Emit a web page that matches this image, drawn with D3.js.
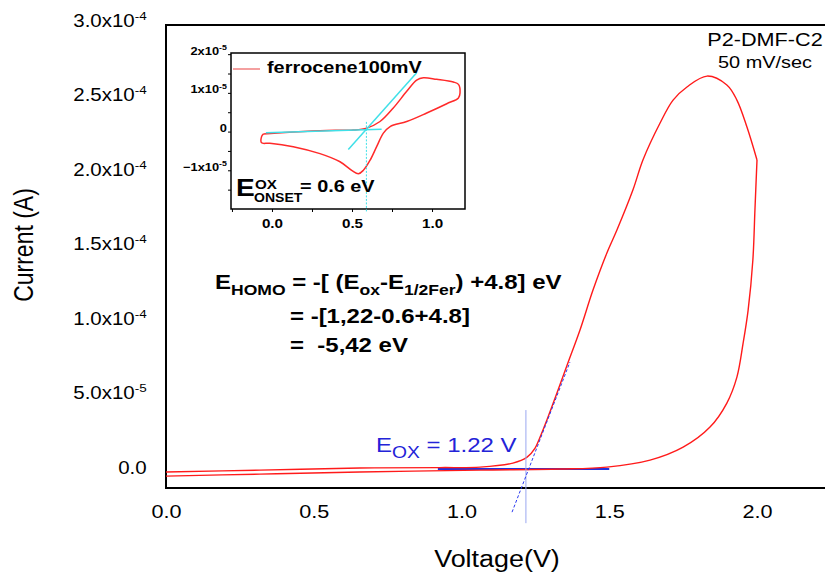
<!DOCTYPE html>
<html>
<head>
<meta charset="utf-8">
<script src="https://cdn.jsdelivr.net/npm/d3@7"></script>
<style>
body{margin:0;background:#fff;}
svg{font-family:"Liberation Sans",Arial,sans-serif;}
text{white-space:pre;}
</style>
</head>
<body>
<svg id="chart" width="825" height="574"></svg>
<script>
// P2 in DMF, 50 mV/s - forward scan then return, current in units of 1e-5 A
const cvVolt = [0, 0.318, 0.656, 0.927, 1.063, 1.174, 1.222, 1.249, 1.266, 1.289, 1.323, 1.360, 1.401, 1.445, 1.492, 1.526, 1.580, 1.614, 1.672, 1.716, 1.763, 1.831, 1.898, 1.932, 1.966, 2.000,
                1.993, 1.986, 1.970, 1.953, 1.932, 1.898, 1.841, 1.750, 1.638, 1.492, 1.333, 1.063, 0.656, 0.318, 0];
const cvCurr = [0.07, 0.20, 0.34, 0.37, 0.40, 0.67, 1.07, 1.68, 2.42, 3.56, 5.37, 7.38, 9.60, 12.28, 14.77, 16.31, 18.99, 21.01, 23.49, 25.03, 25.91, 26.64, 26.04, 25.03, 23.22, 21.01,
                17.65, 14.30, 10.94, 8.72, 6.44, 4.70, 3.09, 1.74, 0.87, 0.40, 0.27, 0.20, 0.07, -0.07, -0.20];
const cvTurn = 25; // index of the 2.0 V switching point

// ferrocene reference at 100 mV/s (inset), current in 1e-5 A
const fcVolt = [-0.054, 0.133, 0.342, 0.508, 0.592, 0.675, 0.758, 0.842, 0.904, 0.946, 1.029, 1.133, 1.165, 1.175,
                1.165, 1.092, 0.967, 0.842, 0.738, 0.696, 0.654, 0.613, 0.571, 0.540, 0.498, 0.425, 0.300, 0.133, -0.013, -0.065, -0.065, -0.054];
const fcCurr = [-0.06, -0.01, 0.03, 0.04, 0.09, 0.26, 0.61, 1.04, 1.33, 1.39, 1.35, 1.28, 1.22, 1.00,
                0.87, 0.72, 0.48, 0.26, 0.13, -0.04, -0.39, -0.74, -1.00, -1.09, -1.00, -0.78, -0.57, -0.39, -0.30, -0.29, -0.13, -0.06];

// onset construction lines [volt, current 1e-5]
const eoxVertical = [[1.218, 4.23], [1.218, -3.36]];
const eoxTangent = [[1.171, -2.62], [1.367, 7.45]];
const eoxBase = [[0.92, 0.27], [1.50, 0.27]];
const fcBase = [[-0.038, -0.03], [0.685, 0.06]];
const fcTangent = [[0.477, -0.46], [0.904, 1.52]];
const fcVertical = [[0.59, 0.25], [0.59, -2.08]];

const xTicks = [0, 0.5, 1.0, 1.5, 2.0];
const yTicks = [0, 5e-5, 1e-4, 1.5e-4, 2e-4, 2.5e-4, 3e-4];
const inXTicks = [0, 0.5, 1.0];
const inXMinor = [-0.25, 0, 0.25, 0.5, 0.75, 1.0];
const inYTicks = [-1e-5, 0, 1e-5, 2e-5];
const inYMinor = [-1.5e-5, -1e-5, -0.5e-5, 0, 0.5e-5, 1e-5, 1.5e-5, 2e-5];

const SX = 1.17; // the picture is a bit wide, stretch text to match
const svg = d3.select("#chart");

function put(g, x, y, size, weight, anchor){
    return g.append("text")
        .attr("transform", "translate(" + x + "," + y + ") scale(" + SX + ",1)")
        .attr("font-size", size)
        .attr("font-weight", weight || "normal")
        .attr("text-anchor", anchor || "start");
}
// runs: [text, "sub"|"sup"|"", size, shift]
function runs(t, list){
    let shift = 0;
    list.forEach(function(r){
        let target = r[3] || 0;
        let ts = t.append("tspan").text(r[0]).attr("dy", target - shift);
        if (r[2]) ts.attr("font-size", r[2]);
        shift = target;
    });
    return t;
}
function sciParts(v, digits){
    if (v === 0) return [digits ? "0.0" : "0", ""];
    let e = Math.floor(Math.log10(Math.abs(v)) + 1e-9);
    let m = v / Math.pow(10, e);
    return [(digits ? m.toFixed(digits) : d3.format("d")(Math.round(m))) + "x10", String(e)];
}

// ---------- main plot ----------
const x = d3.scaleLinear().domain([0, 2.25]).range([166, 166 + 2.25 * 295.5]);
const y = d3.scaleLinear().domain([-1.0e-5, 3.0e-4]).range([488, 26]);

const gx = svg.append("g").attr("transform", "translate(0,488)")
    .call(d3.axisBottom(x).tickValues(xTicks).tickSize(0).tickPadding(17).tickFormat(d3.format(".1f")));
gx.select(".domain").remove();
gx.selectAll("text").attr("font-size", 18.5).attr("font-family", null).attr("transform", "scale(" + SX + ",1)");

const gy = svg.append("g").attr("transform", "translate(166,0)")
    .call(d3.axisLeft(y).tickValues(yTicks).tickSize(0).tickPadding(16.5));
gy.select(".domain").remove();
gy.selectAll("text").attr("font-size", 17.5).attr("font-family", null).attr("transform", "scale(" + SX + ",1)")
    .each(function(d){
        let p = sciParts(d, 1);
        let t = d3.select(this).text(null);
        runs(t, [[p[0]], [p[1], "sup", 11.5, -7]]);
    });

svg.append("rect").attr("x", 166).attr("y", 25).attr("width", 720).attr("height", 463)
    .attr("fill", "none").attr("stroke", "#000").attr("stroke-width", 2);

const line = d3.line().x(d => x(d[0])).y(d => y(d[1] * 1e-5));
const smooth = d3.line().x(d => x(d[0])).y(d => y(d[1] * 1e-5)).curve(d3.curveCatmullRom.alpha(0.5));
const cv = cvVolt.map((v, i) => [v, cvCurr[i]]);

svg.append("path").attr("d", line(eoxBase)).attr("stroke", "#2030e0").attr("stroke-width", 2).attr("fill", "none");
// forward and return drawn apart so the switching point stays sharp
[cv.slice(0, cvTurn + 1), cv.slice(cvTurn)].forEach(function(part){
    svg.append("path").attr("d", smooth(part))
        .attr("fill", "none").attr("stroke", "#ff1a1a").attr("stroke-width", 1.4).attr("stroke-linejoin", "round");
});
svg.append("path").attr("d", line(eoxVertical)).attr("stroke", "#9aa8f0").attr("stroke-width", 1).attr("fill", "none");
svg.append("path").attr("d", line(eoxTangent)).attr("stroke", "#2a3af0").attr("stroke-width", 1)
    .attr("stroke-dasharray", "3,2").attr("fill", "none");

// titles
put(svg, 497, 567, 23, "normal", "middle").text("Voltage(V)");
svg.append("text").attr("transform", "translate(33,245) scale(" + SX + ",1) rotate(-90)")
    .attr("font-size", 23).attr("text-anchor", "middle").text("Current (A)");
put(svg, 765, 46, 18.5, "normal", "middle").text("P2-DMF-C2");
put(svg, 765, 68, 17, "normal", "middle").text("50 mV/sec");

// HOMO equation
runs(put(svg, 215, 289, 20.5, "bold"), [["E"], ["HOMO", "sub", 15, 6], [" = -[ (E", "", null, 0], ["ox", "sub", 15, 6],
    ["-E", "", null, 0], ["1/2Fer", "sub", 15, 6], [") +4.8] eV", "", null, 0]]);
put(svg, 290, 323, 20.5, "bold").text("= -[1,22-0.6+4.8]");
put(svg, 290, 352, 20.5, "bold").text("=  -5,42 eV");

runs(put(svg, 376, 452, 20.5, "normal").attr("fill", "#2323d8"), [["E"], ["OX", "sub", 16.5, 6], [" = 1.22 V", "", null, 0]]);

// ---------- inset ----------
const ix = d3.scaleLinear().domain([-0.256, 1.206]).range([231, 465]);
const iy = d3.scaleLinear().domain([-2.0e-5, 2.03e-5]).range([209, 53]);
const inset = svg.append("g");

const ixa = inset.append("g").attr("transform", "translate(0,209)")
    .call(d3.axisBottom(ix).tickValues(inXMinor).tickSize(3).tickFormat(""));
ixa.select(".domain").remove();
inset.append("g").attr("transform", "translate(0,209)")
    .call(d3.axisBottom(ix).tickValues(inXTicks).tickSize(0).tickPadding(10).tickFormat(d3.format(".1f")))
    .call(g => g.select(".domain").remove())
    .selectAll("text").attr("font-size", 13).attr("font-weight", "bold").attr("font-family", null)
    .attr("transform", "scale(" + SX + ",1)");

const iya = inset.append("g").attr("transform", "translate(231,0)")
    .call(d3.axisLeft(iy).tickValues(inYMinor).tickSize(3).tickFormat(""));
iya.select(".domain").remove();
inset.append("g").attr("transform", "translate(231,0)")
    .call(d3.axisLeft(iy).tickValues(inYTicks).tickSize(0).tickPadding(3.5))
    .call(g => g.select(".domain").remove())
    .selectAll("text").attr("font-size", 11).attr("font-weight", "bold").attr("font-family", null)
    .attr("transform", "scale(" + SX + ",1)")
    .each(function(d){
        let p = sciParts(d, 0);
        let t = d3.select(this).text(null);
        runs(t, [[p[0]], [p[1], "sup", 7.5, -4.5]]);
    });

inset.append("rect").attr("x", 231).attr("y", 53).attr("width", 234).attr("height", 156)
    .attr("fill", "none").attr("stroke", "#000").attr("stroke-width", 1.5);

const iline = d3.line().x(d => ix(d[0])).y(d => iy(d[1] * 1e-5));
const ismooth = d3.line().x(d => ix(d[0])).y(d => iy(d[1] * 1e-5)).curve(d3.curveCatmullRom.alpha(0.5));
inset.append("path").attr("d", ismooth(fcVolt.map((v, i) => [v, fcCurr[i]])))
    .attr("fill", "none").attr("stroke", "#ff2a2a").attr("stroke-width", 1.5);
inset.append("path").attr("d", iline(fcBase)).attr("stroke", "#3fe0e8").attr("stroke-width", 1.5).attr("fill", "none");
inset.append("path").attr("d", iline(fcTangent)).attr("stroke", "#3fe0e8").attr("stroke-width", 1.5).attr("fill", "none");
inset.append("path").attr("d", iline(fcVertical)).attr("stroke", "#3fe0e8").attr("stroke-width", 1)
    .attr("stroke-dasharray", "2,1.5").attr("fill", "none");

inset.append("line").attr("x1", 233).attr("x2", 260).attr("y1", 69).attr("y2", 69)
    .attr("stroke", "#f4a0a0").attr("stroke-width", 2);
put(inset, 267, 73, 17, "bold").text("ferrocene100mV");

put(inset, 236, 196, 24, "bold").text("E");
put(inset, 255, 189, 13, "bold").text("OX");
put(inset, 254, 202, 12, "bold").text("ONSET");
put(inset, 300, 192, 17, "bold").text("= 0.6 eV");
</script>
</body>
</html>
